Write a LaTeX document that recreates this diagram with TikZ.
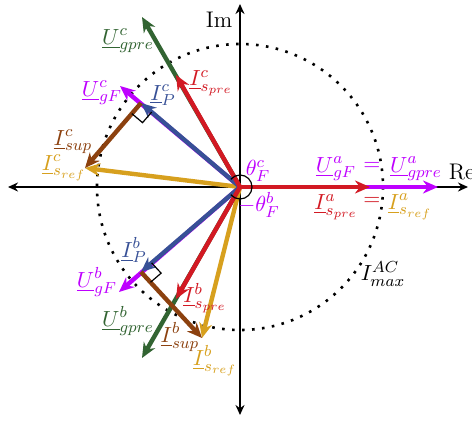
\documentclass[tikz,border=0pt]{standalone}
\usetikzlibrary{arrows.meta,calc}
\definecolor{cgreen}{RGB}{50,100,50}
\definecolor{cred}{RGB}{210,25,35}
\definecolor{cpurple}{RGB}{190,0,255}
\definecolor{cblue}{RGB}{55,80,150}
\definecolor{cbrown}{RGB}{140,65,15}
\definecolor{cgold}{RGB}{215,160,30}
\begin{document}
\begin{tikzpicture}[x=0.5pt,y=-0.5pt,
  every node/.style={inner sep=0pt,font=\fontsize{11.3}{13}\selectfont},
  vec/.style={line width=2.2pt,-{Stealth[length=7.5pt,width=6.5pt]}},
  axis/.style={line width=1pt,{Stealth[length=5pt,width=4.5pt]}-{Stealth[length=5pt,width=4.5pt]}},
  dotcircle/.style={line width=1.3pt,dash pattern=on 1.3pt off 3.7pt},
  rightangle/.style={line width=0.6pt}]
\useasboundingbox (0,0) rectangle (472,423);
% coordinates
\coordinate (O) at (240,187);
\coordinate (L) at (8,187);
\coordinate (R) at (468,187);
\coordinate (T) at (240,4);
\coordinate (B) at (240,415);
\coordinate (Ua) at (438,187);
\coordinate (Ia) at (370,187);
\coordinate (Ugc) at (142,17);
\coordinate (Ugb) at (142,358);
\coordinate (Isc) at (176,75);
\coordinate (Isb) at (176,299);
\coordinate (Ufc) at (120,86);
\coordinate (Ufb) at (119,292);
\coordinate (Jc) at (141,103);
\coordinate (Jb) at (141,272);
\coordinate (Src) at (85,168);
\coordinate (Srb) at (202,338);
% axes and circle
\draw[axis] (L) -- (R);
\draw[axis] (B) -- (T);
\draw[dotcircle] (O) circle[radius=143];
% vectors
\draw[vec,cgreen] (O) -- (Ugc);
\draw[vec,cgreen] (O) -- (Ugb);
\draw[vec,cpurple] (O) -- (Ua);
\draw[vec,cpurple] (O) -- (Ufc);
\draw[vec,cpurple] (O) -- (Ufb);
\draw[vec,cgold] (O) -- (Src);
\draw[vec,cgold] (O) -- (Srb);
\draw[vec,cblue] (O) -- (Jc);
\draw[vec,cblue] (O) -- (Jb);
\draw[vec,cbrown] (Jc) -- (Src);
\draw[vec,cbrown] (Jb) -- (Srb);
\draw[vec,cred] (O) -- (Ia);
\draw[vec,cred] (O) -- (Isc);
\draw[vec,cred] (O) -- (Isb);
% right angle marks
\coordinate (c1) at ($(Jc)!7pt!(O)$);
\coordinate (c2) at ($(Jc)!7pt!(Src)$);
\draw[rightangle] (c1) -- ($(c1)+(c2)-(Jc)$) -- (c2);
\coordinate (b1) at ($(Jb)!7pt!(O)$);
\coordinate (b2) at ($(Jb)!7pt!(Srb)$);
\draw[rightangle] (b1) -- ($(b1)+(b2)-(Jb)$) -- (b2);
% angle arcs
\draw[line width=0.6pt] (O) ++(12,0) arc[start angle=0,end angle=-140,radius=12];
\draw[line width=0.6pt] (O) ++(12,0) arc[start angle=0,end angle=140,radius=12];
% labels
\node (lIm) at (219,20) {Im};
\node (lRe) at (462,172) {Re};
\node[cpurple] (lthc) at (258,171) {$\theta_F^c$};
\node[cpurple] (lthb) at (259,205) {$-\theta_F^b$};
\node[cgreen] (lUgc) at (128,41) {$\underline{U}^c_{gpre}$};
\node[cred] (lIsc) at (211,83) {$\underline{I}^c_{s_{pre}}$};
\node[cpurple] (lUfc) at (102,93) {$\underline{U}^c_{gF}$};
\node[cblue] (lIPc) at (163,95) {$\underline{I}^c_{P}$};
\node[cbrown] (lIsupc) at (73,142) {$\underline{I}^c_{sup}$};
\node[cgold] (lIsrc) at (64,168) {$\underline{I}^c_{s_{ref}}$};
\node[cpurple] (lUfa) at (336,169) {$\underline{U}^a_{gF}$};
\node[cpurple] (leq1) at (372,166) {$=$};
\node[cpurple] (lUga) at (416,169) {$\underline{U}^a_{gpre}$};
\node[cred] (lIsa) at (336,207) {$\underline{I}^a_{s_{pre}}$};
\node[cred] (leq2) at (372,201) {$=$};
\node[cgold] (lIsra) at (410,207) {$\underline{I}^a_{s_{ref}}$};
\node (lImax) at (383,274) {$I^{AC}_{max}$};
\node[cblue] (lIPb) at (134,250) {$\underline{I}^b_{P}$};
\node[cpurple] (lUfb) at (97,282) {$\underline{U}^b_{gF}$};
\node[cgreen] (lUgb) at (128,321) {$\underline{U}^b_{gpre}$};
\node[cred] (lIsb) at (205,298) {$\underline{I}^b_{s_{pre}}$};
\node[cbrown] (lIsupb) at (180,337) {$\underline{I}^b_{sup}$};
\node[cgold] (lIsrb) at (215,361) {$\underline{I}^b_{s_{ref}}$};
\end{tikzpicture}
\end{document}
